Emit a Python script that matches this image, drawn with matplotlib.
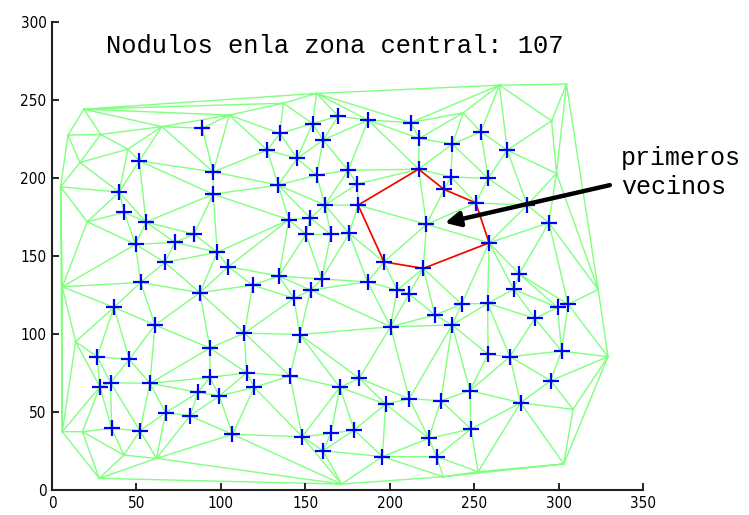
import numpy as np
import matplotlib
matplotlib.use("Agg")
import matplotlib.pyplot as plt
import matplotlib.tri as mtri

# Nodules in the central zone (drawn with '+')
nod_x = [89, 95.5, 51.7, 39.8, 95.5, 42.8, 55.7, 84.1, 72.8, 49.5, 97.9, 66.9, 104.4,
         52.5, 87.6, 36.7, 61, 93.5, 26.8, 45.8, 28.4, 34.7, 58, 93.5, 86.6, 99.1, 67.3,
         81.7, 35.3, 52.1, 106.9, 169.5, 187.3, 212.5, 154.3, 135, 160.6, 217.4, 127.5,
         145.2, 175.4, 217.1, 156.7, 134, 180.8, 161.6, 181.3, 140.3, 153, 254, 237.2,
         269.6, 236.2, 258.3, 232.3, 251, 281.5, 221.8, 294.3, 258.9, 219.9, 211.5, 276.7,
         273.5, 242.6, 258, 299.4, 305.7, 226.8, 237, 286, 150.4, 165.2, 176, 196.6,
         134.4, 159.7, 118.8, 186.9, 153.2, 204.4, 143.3, 200.5, 114, 146.8, 115.3, 140.9,
         119.8, 170.5, 182, 197.6, 211.6, 148.2, 165.2, 179, 160.6, 195.7, 258.3, 271.2,
         301.8, 295.4, 230.3, 247.5, 277.5, 248.1, 223.2, 227.8]
nod_y = [232, 204, 211, 191, 189.7, 178, 171.8, 164.1, 158.8, 157.5, 152.4, 146, 143.2,
         133.1, 126.5, 117.1, 105.8, 91, 85.5, 83.8, 66.2, 68.8, 68.4, 72.2, 62.6, 60.3, 49.6,
         47.6, 39.5, 38, 35.7, 239.7, 237.2, 235.6, 235, 228.6, 224.4, 225.4, 217.9,
         212.6, 205, 205.7, 201.9, 195.5, 196.2, 182.7, 182.7, 173.3, 174.3, 229.7, 221.8,
         217.9, 200.8, 199.8, 192.7, 184.1, 182.7, 170.3, 171.3, 158.5, 142.1, 125.8, 138.5,
         128.6, 119.2, 119.7, 117.1, 119, 112.2, 105.8, 110, 163.9, 163.9, 164.5, 146.3,
         137.2, 135.3, 131.4, 133.5, 128.2, 128.2, 122.9, 104.7, 100.6, 99.7, 75.2, 73.1,
         65.8, 65.8, 71.6, 55.1, 58.5, 34.2, 36.3, 38.5, 25.2, 21.4, 87, 85.5,
         89.1, 70.1, 57.3, 63.7, 56, 39.1, 33.1, 21.4]

# Other nodules (outside the central zone, no marker)
out_x = [18.9, 9.5, 28.8, 16.6, 5.1, 20.9, 6.1, 14, 6.1, 18, 28, 42.6, 61.9, 45, 65,
         105, 137, 156.7, 243.5, 265, 304.7, 295.9, 298.8, 323.5, 329.3, 308.6, 303.1,
         252.4, 231.7, 171.5]
out_y = [244.2, 227.6, 228, 210, 194.4, 172, 130.3, 95.1, 37.4, 37.4, 7.5, 22.4, 20.3,
         218.6, 233, 240.4, 248, 254.3, 241.8, 259.6, 260.3, 236.7, 203, 128.6, 85.5,
         51.7, 16.7, 11.7, 8.5, 3.8]

center_idx = 57  # nodule whose first neighbours are highlighted

title_text = "Nodulos enla zona central: 107"
note_text = "primeros\nvecinos"
xticks = [0, 50, 100, 150, 200, 250, 300, 350]
yticks = [0, 50, 100, 150, 200, 250, 300]

all_x = np.array(nod_x + out_x, dtype=float)
all_y = np.array(nod_y + out_y, dtype=float)
tri = mtri.Triangulation(all_x, all_y)

fig = plt.figure(figsize=(7.49, 5.15), dpi=100)
ax = fig.add_axes([0.0694, 0.0485, 0.789, 0.9085])
green = "#80ff80"
ax.triplot(tri, color=green, lw=1.0)

# first neighbours of the centre nodule, ordered by angle
nb = set()
for a, b in tri.edges:
    if a == center_idx:
        nb.add(b)
    elif b == center_idx:
        nb.add(a)
nb = np.array(sorted(nb))
cx, cy = all_x[center_idx], all_y[center_idx]
ang = np.arctan2(all_y[nb] - cy, all_x[nb] - cx)
order = nb[np.argsort(ang)]
order = np.append(order, order[0])
ax.plot(all_x[order], all_y[order], color="red", lw=1.2)

ax.plot(nod_x, nod_y, "+", color="blue", ms=11, mew=1.6, ls="none")

ax.set_xlim(0, 350)
ax.set_ylim(0, 300)
ax.set_xticks(xticks)
ax.set_yticks(yticks)
ax.spines["top"].set_visible(False)
ax.spines["right"].set_visible(False)
for s in ("left", "bottom"):
    ax.spines[s].set_linewidth(1.5)
    ax.spines[s].set_color("#202020")
ax.tick_params(direction="in", length=5, width=1.2, labelsize=11, pad=4)
for lab in ax.get_xticklabels() + ax.get_yticklabels():
    lab.set_fontstretch("condensed")

ax.text(32, 285, title_text, family="Liberation Mono", fontsize=18.4, va="center", ha="left")
ax.text(337, 203.5, note_text, family="Liberation Mono", fontsize=18, va="center",
        ha="left", linespacing=1.25, clip_on=False)
ax.annotate("", xy=(232.7, 171.3), xytext=(330.4, 195.5), textcoords="data",
            annotation_clip=False,
            arrowprops=dict(arrowstyle="-|>", color="black", lw=3.2, mutation_scale=22,
                            shrinkA=0, shrinkB=0))

fig.savefig("out.png", dpi=100)
